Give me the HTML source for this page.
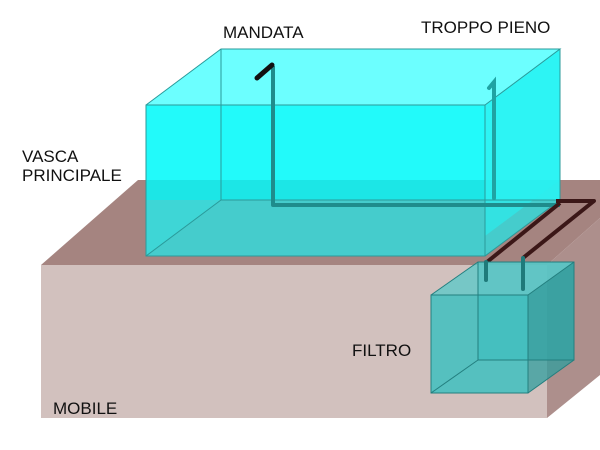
<!DOCTYPE html>
<html><head><style>
html,body{margin:0;padding:0;background:#fff;}
svg{display:block}
text{font-family:"Liberation Sans",sans-serif;font-size:17px;fill:#111}
</style></head><body>
<svg width="600" height="450" viewBox="0 0 600 450">
<rect width="600" height="450" fill="#fff"/>
<!-- mobile -->
<polygon points="41,265 138,180 600,180 600,218 547,265" fill="#a58480"/>
<polygon points="547,265 600,218 600,375 547,418" fill="#ad8f8c"/>
<rect x="41" y="265" width="506" height="153" fill="#d2c1be"/>
<!-- main tank -->
<polygon points="221,49 560,49 560,200 221,200" fill="#20f8f8" opacity="0.9"/>
<polygon points="146,105 221,49 560,49 485,105" fill="#6cffff"/>
<polygon points="146,256 221,200 560,200 485,256" fill="#45cccc"/>
<rect x="146" y="105" width="339" height="75" fill="#22fafa"/>
<rect x="146" y="180" width="339" height="20" fill="#1ce6e6"/>
<polygon points="146,200 221,200 146,256" fill="#3ed6d6"/>
<polygon points="485,105 560,49 560,180 485,236" fill="#28f0f0" opacity="0.6"/>
<g fill="none" stroke="#2a9a9a" stroke-width="1">
<rect x="146" y="105" width="339" height="151"/>
<polyline points="146,105 221,49 560,49 485,105"/>
<line x1="560" y1="49" x2="560" y2="200"/>
<line x1="221" y1="49" x2="221" y2="200"/>
<line x1="221" y1="200" x2="560" y2="200"/>
<line x1="146" y1="256" x2="221" y2="200"/>
<line x1="485" y1="256" x2="560" y2="200"/>
</g>
<!-- pipes inside -->
<polyline points="273,66 273,205 560,205" fill="none" stroke="#1f8c8c" stroke-width="4" stroke-linejoin="round"/>
<polyline points="489,88 494,82 494,198" fill="none" stroke="#1fa3a3" stroke-width="4" stroke-linecap="round"/>
<line x1="257" y1="78" x2="272" y2="65" stroke="#111" stroke-width="5" stroke-linecap="round"/>
<polyline points="556,201 594,201 523,258" fill="none" stroke="#3b1717" stroke-width="4" stroke-linejoin="round"/>
<line x1="560" y1="203" x2="487" y2="262" stroke="#3b1717" stroke-width="4"/>
<!-- filter -->
<polygon points="478,262 574,262 574,360 478,360" fill="#3ab8b8" opacity="0.7"/>
<polygon points="431,295 478,262 574,262 528,295" fill="#5fc8c8" opacity="0.8"/>
<polygon points="528,295 574,262 574,360 528,393" fill="#309e9e" opacity="0.75"/>
<rect x="431" y="295" width="97" height="98" fill="#3fc0c0" opacity="0.85"/>
<g fill="none" stroke="#237f7f" stroke-width="1">
<rect x="431" y="295" width="97" height="98"/>
<rect x="478" y="262" width="96" height="98"/>
<line x1="431" y1="295" x2="478" y2="262"/>
<line x1="528" y1="295" x2="574" y2="262"/>
<line x1="431" y1="393" x2="478" y2="360"/>
<line x1="528" y1="393" x2="574" y2="360"/>
</g>
<line x1="486" y1="262" x2="486" y2="280" stroke="#1f7a7a" stroke-width="4" stroke-linecap="round"/>
<line x1="523" y1="258" x2="523" y2="289" stroke="#1f7a7a" stroke-width="4" stroke-linecap="round"/>
<text x="223" y="38">MANDATA</text>
<text x="421" y="33">TROPPO PIENO</text>
<text x="22" y="162">VASCA</text>
<text x="22" y="181">PRINCIPALE</text>
<text x="352" y="356">FILTRO</text>
<text x="53" y="414">MOBILE</text>
</svg>
</body></html>
